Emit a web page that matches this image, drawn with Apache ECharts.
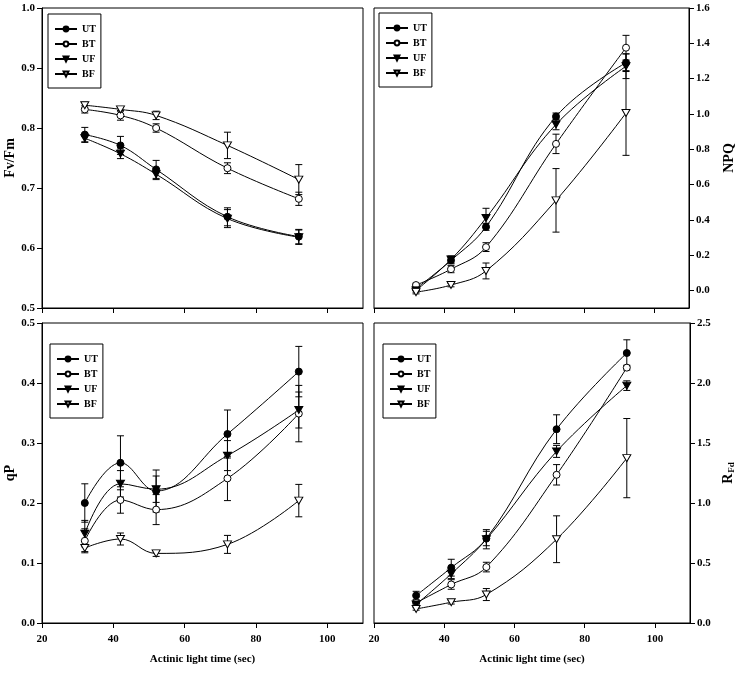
<!DOCTYPE html>
<html><head><meta charset="utf-8">
<script src="https://cdn.jsdelivr.net/npm/echarts@6.0.0/dist/echarts.min.js"></script>
<style>html,body{margin:0;padding:0;background:#fff}#c{width:737px;height:677px}</style>
</head><body><div id="c"></div><script>
const timeSec = [32, 42, 52, 72, 92];
const seriesNames = ['UT', 'BT', 'UF', 'BF'];
const xTicks = [20, 40, 60, 80, 100];

const fvfmUT = [0.789, 0.771, 0.731, 0.652, 0.619];
const fvfmUTErr = [0.012, 0.015, 0.015, 0.015, 0.012];
const fvfmBT = [0.831, 0.821, 0.800, 0.733, 0.682];
const fvfmBTErr = [0.006, 0.008, 0.007, 0.009, 0.011];
const fvfmUF = [0.783, 0.757, 0.723, 0.649, 0.618];
const fvfmUFErr = [0.007, 0.008, 0.009, 0.015, 0.012];
const fvfmBF = [0.838, 0.831, 0.821, 0.771, 0.714];
const fvfmBFErr = [0.005, 0.003, 0.007, 0.022, 0.025];
const fvfmTicks = [0.5, 0.6, 0.7, 0.8, 0.9, 1.0];

const npqUT = [0.01, 0.17, 0.36, 0.985, 1.29];
const npqUTErr = [0.01, 0.02, 0.02, 0.02, 0.05];
const npqBT = [0.03, 0.12, 0.245, 0.83, 1.375];
const npqBTErr = [0.01, 0.02, 0.025, 0.055, 0.07];
const npqUF = [0.0, 0.175, 0.41, 0.94, 1.27];
const npqUFErr = [0.01, 0.02, 0.055, 0.03, 0.07];
const npqBF = [-0.01, 0.03, 0.11, 0.51, 1.005];
const npqBFErr = [0.01, 0.01, 0.045, 0.18, 0.24];
const npqTicks = [0.0, 0.2, 0.4, 0.6, 0.8, 1.0, 1.2, 1.4, 1.6];

const qpUT = [0.200, 0.267, 0.220, 0.315, 0.419];
const qpUTErr = [0.032, 0.045, 0.035, 0.040, 0.042];
const qpBT = [0.137, 0.205, 0.189, 0.241, 0.349];
const qpBTErr = [0.020, 0.022, 0.025, 0.037, 0.047];
const qpUF = [0.149, 0.232, 0.223, 0.279, 0.355];
const qpUFErr = [0.022, 0.022, 0.022, 0.025, 0.030];
const qpBF = [0.125, 0.140, 0.116, 0.131, 0.204];
const qpBFErr = [0.006, 0.010, 0.005, 0.015, 0.027];
const qpTicks = [0.0, 0.1, 0.2, 0.3, 0.4, 0.5];

const rfdUT = [0.229, 0.461, 0.704, 1.615, 2.25];
const rfdUTErr = [0.035, 0.07, 0.06, 0.12, 0.11];
const rfdBT = [0.168, 0.321, 0.466, 1.235, 2.128];
const rfdBTErr = [0.02, 0.04, 0.04, 0.085, 0.02];
const rfdUF = [0.154, 0.41, 0.698, 1.43, 1.978];
const rfdUFErr = [0.02, 0.04, 0.08, 0.05, 0.04];
const rfdBF = [0.117, 0.173, 0.237, 0.698, 1.374];
const rfdBFErr = [0.01, 0.015, 0.05, 0.195, 0.33];
const rfdTicks = [0.0, 0.5, 1.0, 1.5, 2.0, 2.5];

const FONT = 'Liberation Serif';
const downTri = 'path://M0,0L10,0L5,9Z';
const markerStyles = [
  { symbol: 'circle', fill: '#000', size: 7 },
  { symbol: 'circle', fill: '#fff', size: 7 },
  { symbol: downTri, fill: '#000', size: [8, 7] },
  { symbol: downTri, fill: '#fff', size: [8, 7] }
];

const panels = [
  { vals: [fvfmUT, fvfmBT, fvfmUF, fvfmBF], errs: [fvfmUTErr, fvfmBTErr, fvfmUFErr, fvfmBFErr],
    min: 0.5, max: 1.0, ticks: fvfmTicks, pos: 'left', name: 'Fv/Fm', gap: 25,
    grid: { left: 42, top: 8, width: 321, height: 300 }, legend: { left: 48, top: 14 }, bottom: false },
  { vals: [npqUT, npqBT, npqUF, npqBF], errs: [npqUTErr, npqBTErr, npqUFErr, npqBFErr],
    min: -0.1, max: 1.6, ticks: npqTicks, pos: 'right', name: 'NPQ', gap: 33,
    grid: { left: 374, top: 8, width: 318, height: 300 }, legend: { left: 379, top: 13 }, bottom: false },
  { vals: [qpUT, qpBT, qpUF, qpBF], errs: [qpUTErr, qpBTErr, qpUFErr, qpBFErr],
    min: 0, max: 0.5, ticks: qpTicks, pos: 'left', name: 'qP', gap: 25,
    grid: { left: 42, top: 323, width: 321, height: 300 }, legend: { left: 50, top: 344 }, bottom: true },
  { vals: [rfdUT, rfdBT, rfdUF, rfdBF], errs: [rfdUTErr, rfdBTErr, rfdUFErr, rfdBFErr],
    min: 0, max: 2.5, ticks: rfdTicks, pos: 'right', name: '{r|R}{s|Fd}', gap: 31,
    grid: { left: 374, top: 323, width: 318, height: 300 }, legend: { left: 383, top: 344 }, bottom: true }
];

const axisLineStyle = { show: true, onZero: false, lineStyle: { color: '#000', width: 1 } };
const labelStyle = { fontFamily: FONT, fontWeight: 'bold', fontSize: 11, color: '#000' };

const grids = [], xAxes = [], yAxes = [], legends = [], series = [];

function errRender(params, api) {
  const x = api.value(0), y = api.value(1), e = api.value(2);
  const top = api.coord([x, y + e]);
  const bot = api.coord([x, y - e]);
  const hw = 3.5;
  const st = { stroke: '#000', lineWidth: 1 };
  return {
    type: 'group',
    children: [
      { type: 'line', shape: { x1: top[0], y1: top[1], x2: bot[0], y2: bot[1] }, style: st },
      { type: 'line', shape: { x1: top[0] - hw, y1: top[1], x2: top[0] + hw, y2: top[1] }, style: st },
      { type: 'line', shape: { x1: bot[0] - hw, y1: bot[1], x2: bot[0] + hw, y2: bot[1] }, style: st }
    ]
  };
}

panels.forEach((p, i) => {
  grids.push(Object.assign({ show: true, borderColor: '#000', borderWidth: 1, backgroundColor: 'transparent' }, p.grid));
  xAxes.push({
    type: 'value', gridIndex: i, min: 20, max: 110,
    axisLine: axisLineStyle,
    axisTick: { show: true, length: 5, inside: false, customValues: xTicks, lineStyle: { color: '#000' } },
    axisLabel: { show: p.bottom, customValues: xTicks, margin: 11, ...labelStyle },
    splitLine: { show: false },
    name: p.bottom ? 'Actinic light time (sec)' : '',
    nameLocation: 'middle', nameGap: 31,
    nameTextStyle: { fontFamily: FONT, fontWeight: 'bold', fontSize: 11, color: '#000' }
  });
  yAxes.push({
    type: 'value', gridIndex: i, min: p.min, max: p.max, position: p.pos,
    axisLine: axisLineStyle,
    axisTick: { show: true, length: 5, inside: false, customValues: p.ticks, lineStyle: { color: '#000' } },
    axisLabel: { customValues: p.ticks, margin: 7, formatter: v => Number(v).toFixed(1), ...labelStyle },
    splitLine: { show: false },
    name: p.name, nameLocation: 'middle', nameRotate: 90, nameGap: p.gap,
    nameTextStyle: {
      fontFamily: FONT, fontWeight: 'bold', fontSize: 14, color: '#000',
      rich: {
        r: { fontFamily: FONT, fontWeight: 'bold', fontSize: 14, color: '#000' },
        s: { fontFamily: FONT, fontWeight: 'bold', fontSize: 9, color: '#000', verticalAlign: 'bottom', padding: [6, 0, 0, 1] }
      }
    }
  });
  legends.push({
    data: seriesNames, orient: 'vertical', left: p.legend.left, top: p.legend.top,
    backgroundColor: '#fff', borderColor: '#000', borderWidth: 1, padding: [9, 5, 8, 6],
    itemGap: 3, itemWidth: 22, itemHeight: 6, selectedMode: false,
    textStyle: { fontFamily: FONT, fontWeight: 'bold', fontSize: 10, color: '#000', lineHeight: 12 }
  });
  seriesNames.forEach((nm, k) => {
    const m = markerStyles[k];
    series.push({
      type: 'line', name: nm, xAxisIndex: i, yAxisIndex: i,
      data: timeSec.map((x, j) => [x, p.vals[k][j]]),
      smooth: 0.4, symbol: m.symbol, symbolSize: m.size, showAllSymbol: true,
      itemStyle: { color: m.fill, borderColor: '#000', borderWidth: 1 },
      lineStyle: { color: '#000', width: 1 },
      z: 4, emphasis: { disabled: true }, animation: false
    });
  });
  seriesNames.forEach((nm, k) => {
    series.push({
      type: 'custom', name: nm + ' error', xAxisIndex: i, yAxisIndex: i,
      data: timeSec.map((x, j) => [x, p.vals[k][j], p.errs[k][j]]),
      renderItem: errRender, z: 3, silent: true, animation: false
    });
  });
});

const chart = echarts.init(document.getElementById('c'));
chart.setOption({
  backgroundColor: '#fff',
  animation: false,
  textStyle: { fontFamily: FONT },
  grid: grids, xAxis: xAxes, yAxis: yAxes, legend: legends, series: series
});
</script></body></html>
